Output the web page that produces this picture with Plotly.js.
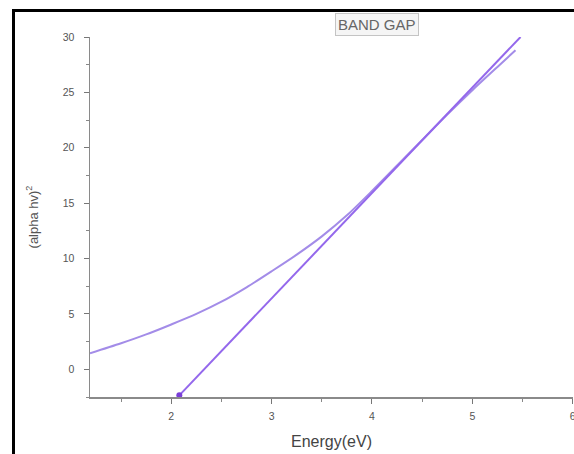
<!DOCTYPE html>
<html>
<head>
<meta charset="utf-8">
<script src="https://cdn.plot.ly/plotly-3.0.1.min.js"></script>
<style>
html,body{margin:0;padding:0;background:#fff;overflow:hidden;}
#wrap{position:relative;width:574px;height:454px;overflow:hidden;background:#fff;}
#chart{position:absolute;left:0;top:0;width:574px;height:454px;}
#frame{position:absolute;left:12px;top:9px;width:600px;height:500px;border-left:3px solid #000;border-top:3px solid #000;pointer-events:none;}
</style>
</head>
<body>
<div id="wrap"><div id="chart"></div><div id="frame"></div></div>
<script>
// Measured curve (alpha h nu)^2 vs energy
const energy = [1.19, 1.5, 1.75, 2.0, 2.25, 2.5, 2.75, 3.0, 3.25, 3.5, 3.75, 4.0, 4.25, 4.5, 4.75, 5.0, 5.25, 5.43];
const alphaHv2 = [1.45, 2.35, 3.15, 4.05, 5.0, 6.1, 7.4, 8.85, 10.35, 12.0, 13.9, 16.1, 18.4, 20.7, 23.0, 25.2, 27.3, 28.8];
// Linear extrapolation (tangent) line
const fitX = [2.08, 5.48];
const fitY = [-2.35, 30.0];
const xTicks = [2, 3, 4, 5, 6];
const yTicks = [0, 5, 10, 15, 20, 25, 30];

const FONT = 'Liberation Sans, Arial, sans-serif';

const traces = [
  {x: energy, y: alphaHv2, mode: 'lines', line: {color: '#a38ce8', width: 2, shape: 'spline', smoothing: 0.8}, hoverinfo: 'skip'},
  {x: fitX, y: fitY, mode: 'lines', line: {color: '#9468ec', width: 2}, hoverinfo: 'skip'},
  {x: [fitX[0]], y: [fitY[0]], mode: 'markers', marker: {color: '#7a3ed8', size: 6}, hoverinfo: 'skip', cliponaxis: false}
];

const axisCommon = {
  showgrid: false, zeroline: false, showline: true, linecolor: '#8a8a8a', linewidth: 1.5,
  ticks: 'outside', ticklen: 5, tickwidth: 1, tickcolor: '#777',
  tickfont: {family: FONT, size: 10.5, color: '#555'},
  ticklabeloverflow: 'allow',
  mirror: false
};

const layout = {
  width: 574, height: 454,
  margin: {l: 90, r: 1, t: 37, b: 57},
  paper_bgcolor: 'rgba(0,0,0,0)', plot_bgcolor: '#fff',
  showlegend: false,
  xaxis: Object.assign({}, axisCommon, {
    range: [1.19, 6.003], tickvals: xTicks, ticktext: xTicks.map(String),
    minor: {dtick: 0.5, tick0: 0, ticklen: 3, tickcolor: '#888', ticks: 'outside'},
    ticklabelstandoff: 4,
    title: {text: 'Energy(eV)', standoff: 14, font: {family: FONT, size: 16, color: '#444'}}
  }),
  yaxis: Object.assign({}, axisCommon, {
    range: [-2.5, 30], tickvals: yTicks, ticktext: yTicks.map(String),
    minor: {dtick: 2.5, tick0: 0, ticklen: 3, tickcolor: '#888', ticks: 'outside'},
    ticklabelstandoff: 7,
    title: {text: '(alpha hv)<sup>2</sup>', standoff: 21, font: {family: FONT, size: 13, color: '#555'}}
  }),
  annotations: [{
    text: 'BAND GAP', xref: 'paper', yref: 'paper', x: 0.594, y: 1.035, xanchor: 'center', yanchor: 'middle',
    showarrow: false, font: {family: FONT, size: 15, color: '#666'},
    bgcolor: '#f5f5f5', bordercolor: '#c4c4c4', borderwidth: 1, borderpad: 2
  }]
};

Plotly.newPlot('chart', traces, layout, {displayModeBar: false, staticPlot: true});
</script>
</body>
</html>
